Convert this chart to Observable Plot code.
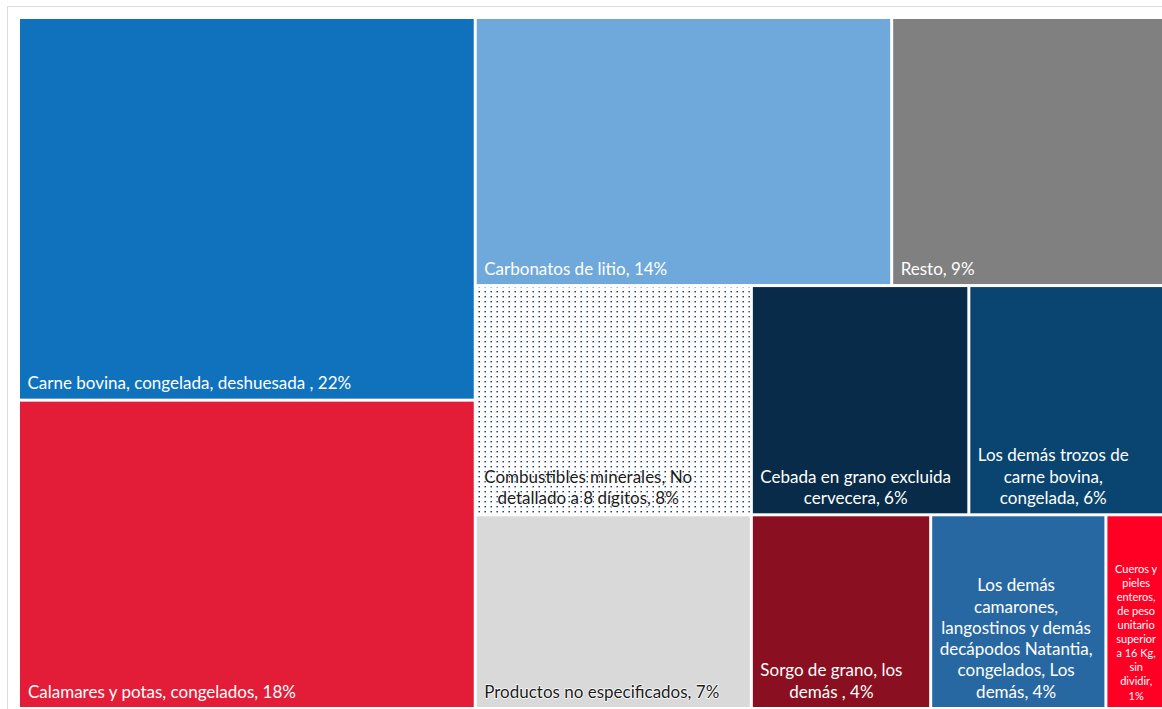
<!DOCTYPE html>
<html>
<head>
<meta charset="utf-8">
<script src="https://cdn.jsdelivr.net/npm/d3@7"></script>
<script src="https://cdn.jsdelivr.net/npm/@observablehq/plot@0.6"></script>
<style>
  html, body { margin: 0; padding: 0; background: #fff; overflow: hidden; }
  #frame { position: absolute; left: 7px; top: 6px; width: 1400px; height: 900px; border: 1px solid #dcdcdc; }
  #chart { position: absolute; left: 20px; top: 19px; }
</style>
</head>
<body>
<div id="frame"></div>
<div id="chart"></div>
<script>
// ---- data ----
const names = [
  "Carne bovina, congelada, deshuesada",
  "Calamares y potas, congelados",
  "Carbonatos de litio",
  "Resto",
  "Combustibles minerales, No detallado a 8 dígitos",
  "Productos no especificados",
  "Cebada en grano excluida cervecera",
  "Los demás trozos de carne bovina, congelada",
  "Sorgo de grano, los demás",
  "Los demás camarones, langostinos y demás decápodos Natantia, congelados, Los demás",
  "Cueros y pieles enteros, de peso unitario superior a 16 Kg, sin dividir"
];
const shares = [22.09, 17.80, 14.11, 9.21, 8.00, 6.76, 6.30, 5.64, 4.39, 4.29, 1.41];
const labels = [
  "Carne bovina, congelada, deshuesada , 22%",
  "Calamares y potas, congelados, 18%",
  "Carbonatos de litio, 14%",
  "Resto, 9%",
  "Combustibles minerales, No\ndetallado a 8 dígitos, 8%",
  "Productos no especificados, 7%",
  "Cebada en grano excluida\ncervecera, 6%",
  "Los demás trozos de\ncarne bovina,\ncongelada, 6%",
  "Sorgo de grano, los\ndemás , 4%",
  "Los demás\ncamarones,\nlangostinos y demás\ndecápodos Natantia,\ncongelados, Los\ndemás, 4%",
  "Cueros y\npieles\nenteros,\nde peso\nunitario\nsuperior\na 16 Kg,\nsin\ndividir,\n1%"
];
const colors = ["#1072bd", "#e31c38", "#6fa9db", "#808080", "url(#dots)", "#d9d9d9",
                "#072b48", "#0a4470", "#8a0f20", "#2868a2", "#ff0024"];
const textColors = ["#fff", "#fff", "#fff", "#fff", "#1a1a1a", "#1a1a1a",
                    "#fff", "#fff", "#fff", "#fff", "#fff"];
const fontSizes = [17, 17, 17, 17, 17, 17, 17, 17, 17, 17, 11];
const strips = [0, 0, 1, 1, 2, 2, 3, 3, 4, 4, 4];

// ---- layout ----
const W = 1142, H = 688;

function stripTile(parent, x0, y0, x1, y1) {
  const groups = d3.groups(parent.children, d => d.data.strip);
  let value = parent.value;
  for (const [, kids] of groups) {
    const sum = d3.sum(kids, d => d.value);
    const row = {children: kids, value: sum};
    const dx = x1 - x0, dy = y1 - y0;
    let r;
    if (dx < dy) { r = [x0, y0, x1, y0 + dy * sum / value]; y0 = r[3]; }
    else { r = [x0, y0, x0 + dx * sum / value, y1]; x0 = r[2]; }
    if (r[2] - r[0] >= r[3] - r[1]) d3.treemapDice(row, ...r);
    else d3.treemapSlice(row, ...r);
    value -= sum;
  }
}

const items = names.map((name, i) => ({
  name, value: shares[i], label: labels[i], color: colors[i],
  textColor: textColors[i], fontSize: fontSizes[i], strip: strips[i]
}));
const root = d3.hierarchy({children: items}).sum(d => d.value || 0);
d3.treemap().size([W, H]).paddingInner(3).tile(stripTile)(root);

const ctx = document.createElement("canvas").getContext("2d");
const leaves = root.leaves().map(n => {
  const d = n.data;
  ctx.font = `${d.fontSize}px Lato`;
  const maxW = d3.max(d.label.split("\n"), s => ctx.measureText(s).width);
  return {...d, x0: n.x0, x1: n.x1, y0: n.y0, y1: n.y1, tx: n.x0 + 7 + maxW / 2};
});
const big = leaves.filter(d => d.fontSize === 17);
const small = leaves.filter(d => d.fontSize !== 17);

const chart = Plot.plot({
  width: W,
  height: H,
  margin: 0,
  x: {domain: [0, W], range: [0, W], axis: null},
  y: {domain: [0, H], range: [0, H], axis: null},
  color: {type: "identity"},
  style: {fontFamily: "Lato", background: "#fff"},
  marks: [
    Plot.rect(leaves, {x1: "x0", x2: "x1", y1: "y0", y2: "y1", fill: "color"}),
    Plot.text(big, {
      x: "tx", y: "y1", text: "label", fill: "textColor",
      fontSize: 17, lineHeight: 1.25, lineAnchor: "bottom", textAnchor: "middle", dy: -10,
      stroke: d => d.textColor === "#fff" ? "none" : "#fff", strokeWidth: 1.5, paintOrder: "stroke"
    }),
    Plot.text(small, {
      x: "tx", y: "y1", text: "label", fill: "textColor",
      fontSize: 11, lineHeight: 1.28, lineAnchor: "bottom", textAnchor: "middle", dy: -8
    })
  ]
});

const NS = "http://www.w3.org/2000/svg";
const defs = document.createElementNS(NS, "defs");
defs.innerHTML = `<pattern id="dots" width="6" height="5" patternUnits="userSpaceOnUse">
  <rect width="6" height="5" fill="#fff"/>
  <rect x="2.5" y="2" width="1.4" height="1.4" fill="#0a2a66"/>
</pattern>`;
chart.insertBefore(defs, chart.firstChild);
document.getElementById("chart").appendChild(chart);
</script>
</body>
</html>
